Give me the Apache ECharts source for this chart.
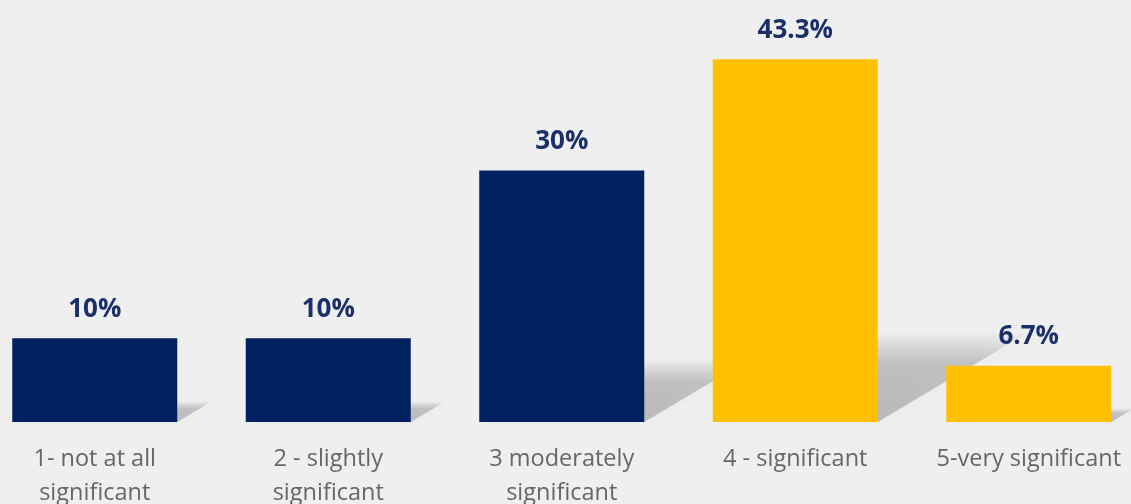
<!DOCTYPE html>
<html>
<head>
<meta charset="utf-8">
<script src="https://cdn.jsdelivr.net/npm/echarts@6/dist/echarts.min.js"></script>
<style>
  html, body { margin: 0; padding: 0; background: #efefef; }
  #chart { width: 1131px; height: 504px; }
</style>
</head>
<body>
<div id="chart"></div>
<script>
// Survey answers: how significant is the issue (share of respondents, %)
const categories = [
  '1- not at all\nsignificant',
  '2 - slightly\nsignificant',
  '3 moderately\nsignificant',
  '4 - significant',
  '5-very significant'
];
const shares = [10, 10, 30, 43.3, 6.7];
const barColors = ['#002060', '#002060', '#002060', '#FFC000', '#FFC000'];

const BAR_WIDTH = 165;
const FONT = '"Open Sans", "Liberation Sans", sans-serif';

const chart = echarts.init(document.getElementById('chart'), null, { renderer: 'canvas' });

// Soft perspective shadow cast behind each bar, skewed up and to the right
function renderShadow(params, api) {
  const idx = api.value(0);
  const val = api.value(1);
  const top = api.coord([idx, val]);
  const base = api.coord([idx, 0]);
  const h = base[1] - top[1];
  const xl = base[0] - BAR_WIDTH / 2;
  const xr = base[0] + BAR_WIDTH / 2;
  const dx = h * 0.42;
  const dy = h * 0.25;
  return {
    type: 'polygon',
    shape: {
      points: [
        [xl, base[1]],
        [xr, base[1]],
        [xr + dx, base[1] - dy],
        [xl + dx, base[1] - dy]
      ]
    },
    style: {
      fill: new echarts.graphic.LinearGradient(0, 0, 0, 1, [
        { offset: 0, color: 'rgba(0,0,0,0.0)' },
        { offset: 0.35, color: 'rgba(0,0,0,0.18)' },
        { offset: 1, color: 'rgba(0,0,0,0.21)' }
      ]),
      shadowBlur: 16,
      shadowColor: 'rgba(0,0,0,0.13)'
    }
  };
}

chart.setOption({
  backgroundColor: '#efefef',
  animation: false,
  grid: {
    left: -22, right: -14.5, top: 3, bottom: 82,
    containLabel: false,
    outerBoundsMode: 'none'
  },
  xAxis: {
    type: 'category',
    data: categories,
    axisLine: { show: false },
    axisTick: { show: false },
    axisLabel: {
      interval: 0,
      margin: 20,
      color: '#666666',
      fontFamily: FONT,
      fontSize: 23.5,
      lineHeight: 34
    }
  },
  yAxis: {
    type: 'value',
    min: 0,
    max: 50,
    show: false,
    splitLine: { show: false }
  },
  series: [
    {
      type: 'custom',
      z: 1,
      silent: true,
      clip: false,
      renderItem: renderShadow,
      data: shares.map((v, i) => [i, v])
    },
    {
      type: 'bar',
      z: 2,
      barWidth: BAR_WIDTH,
      data: shares.map((v, i) => ({ value: v, itemStyle: { color: barColors[i] } })),
      label: {
        show: true,
        position: 'top',
        distance: 16,
        formatter: p => p.value + '%',
        color: '#1b2f6b',
        fontFamily: FONT,
        fontWeight: 'bold',
        fontSize: 26,
        lineHeight: 26
      }
    }
  ]
});
</script>
</body>
</html>
